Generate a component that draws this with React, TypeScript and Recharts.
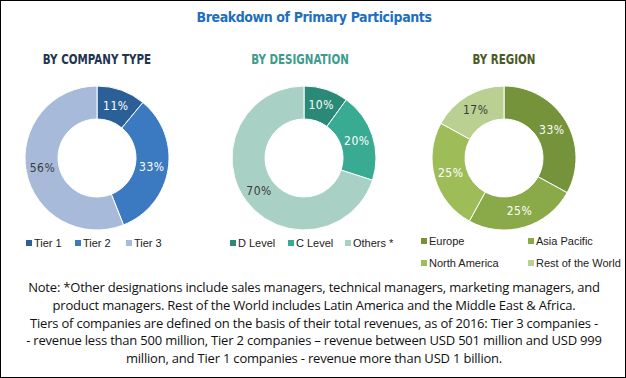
import { PieChart, Pie, Cell } from 'recharts'

const companyTypes = ['Tier 1', 'Tier 2', 'Tier 3']
const companyShares = [11, 33, 56]
const companyColors = ['#2b5f97', '#3b79c1', '#a8bad9']

const designations = ['D Level', 'C Level', 'Others *']
const designationShares = [10, 20, 70]
const designationColors = ['#2a8a77', '#3aab93', '#a9d0c4']

const regions = ['Europe', 'Asia Pacific', 'North America', 'Rest of the World']
const regionShares = [33, 25, 25, 17]
const regionColors = ['#74933b', '#8aaa49', '#9ebd59', '#b9d092']

const noteLines = [
  'Note: *Other designations include sales managers, technical managers, marketing managers, and',
  'product managers. Rest of the World includes Latin America and the Middle East & Africa.',
  'Tiers of companies are defined on the basis of their total revenues, as of 2016: Tier 3 companies -',
  '- revenue less than 500 million, Tier 2 companies \u2013 revenue between USD 501 million and USD 999',
  'million, and Tier 1 companies - revenue more than USD 1 billion.',
]

const RADIAN = Math.PI / 180

function Donut({ names, values, colors, darkLabel, left }: {
  names: string[]
  values: number[]
  colors: string[]
  darkLabel: number
  left: number
}) {
  const data = names.map((name, i) => ({ name, value: values[i] }))

  const renderLabel = (p: any) => {
    const r = p.innerRadius + (p.outerRadius - p.innerRadius) * 0.5
    const x = p.cx + r * Math.cos(-p.midAngle * RADIAN)
    const y = p.cy + r * Math.sin(-p.midAngle * RADIAN)
    return (
      <text
        x={x}
        y={y}
        textAnchor="middle"
        dominantBaseline="central"
        fill={p.index === darkLabel ? '#3a3a3a' : '#ffffff'}
        fontSize={12}
        fontFamily="'DejaVu Sans Condensed', 'DejaVu Sans', sans-serif"
        letterSpacing={0.5}
      >
        {`${p.value}%`}
      </text>
    )
  }

  return (
    <div style={{ position: 'absolute', left: left - 94, top: 72 }}>
      <PieChart width={180} height={160}>
        <Pie
          data={data}
          dataKey="value"
          cx={90}
          cy={80}
          innerRadius={39}
          outerRadius={72}
          startAngle={90}
          endAngle={-270}
          stroke="#ffffff"
          strokeWidth={1}
          label={renderLabel}
          labelLine={false}
          isAnimationActive={false}
        >
          {data.map((d, i) => (
            <Cell key={d.name} fill={colors[i]} />
          ))}
        </Pie>
      </PieChart>
    </div>
  )
}

function LegendItem({ name, color, x, y }: { name: string; color: string; x: number; y: number }) {
  return (
    <div
      style={{
        position: 'absolute',
        left: x,
        top: y - 7,
        display: 'flex',
        alignItems: 'center',
        fontSize: 11,
        color: '#222',
        whiteSpace: 'nowrap',
      }}
    >
      <span style={{ width: 6, height: 6, background: color, marginRight: 2, display: 'inline-block' }} />
      {name}
    </div>
  )
}

const subtitle = {
  position: 'absolute' as const,
  top: 50,
  width: 160,
  textAlign: 'center' as const,
  fontWeight: 'bold' as const,
  fontSize: 13.5,
  fontFamily: "'DejaVu Sans Condensed', sans-serif",
  transform: 'scaleX(0.85)',
  transformOrigin: 'center',
}

export default function App() {
  const tierX = [25, 74, 125]
  const desigX = [229, 287, 344]
  const regionPos = [
    [420, 241],
    [527, 241],
    [420, 263],
    [527, 263],
  ]
  return (
    <div
      style={{
        position: 'absolute',
        left: 0,
        top: 0,
        width: 626,
        height: 378,
        boxSizing: 'border-box',
        border: '1px solid #000',
        background: '#fff',
        fontFamily: "'Liberation Sans', Arial, sans-serif",
        overflow: 'hidden',
      }}
    >
      <div
        style={{
          position: 'absolute',
          top: 8,
          left: 0,
          width: 626,
          textAlign: 'center',
          fontWeight: 'bold',
          fontSize: 14,
          color: '#1e6fbe',
          fontFamily: "'DejaVu Sans Condensed', sans-serif",
          letterSpacing: -0.4,
        }}
      >
        Breakdown of Primary Participants
      </div>
      <div style={{ ...subtitle, left: 16, color: '#1f3450' }}>BY COMPANY TYPE</div>
      <div style={{ ...subtitle, left: 219, color: '#3d9c8b' }}>BY DESIGNATION</div>
      <div style={{ ...subtitle, left: 423, color: '#4b5a27' }}>BY REGION</div>

      <Donut names={companyTypes} values={companyShares} colors={companyColors} darkLabel={2} left={95} />
      <Donut names={designations} values={designationShares} colors={designationColors} darkLabel={2} left={302} />
      <Donut names={regions} values={regionShares} colors={regionColors} darkLabel={3} left={502} />

      {companyTypes.map((n, i) => (
        <LegendItem key={n} name={n} color={companyColors[i]} x={tierX[i]} y={243} />
      ))}
      {designations.map((n, i) => (
        <LegendItem key={n} name={n} color={designationColors[i]} x={desigX[i]} y={243} />
      ))}
      {regions.map((n, i) => (
        <LegendItem key={n} name={n} color={regionColors[i]} x={regionPos[i][0]} y={regionPos[i][1]} />
      ))}

      <div
        style={{
          position: 'absolute',
          top: 278,
          left: 0,
          width: 626,
          textAlign: 'center',
          fontSize: 13,
          lineHeight: '17.8px',
          color: '#111',
          fontFamily: "'Open Sans', sans-serif",
          letterSpacing: -0.2,
        }}
      >
        {noteLines.map((l) => (
          <div key={l} style={{ whiteSpace: 'nowrap' }}>{l}</div>
        ))}
      </div>
    </div>
  )
}
